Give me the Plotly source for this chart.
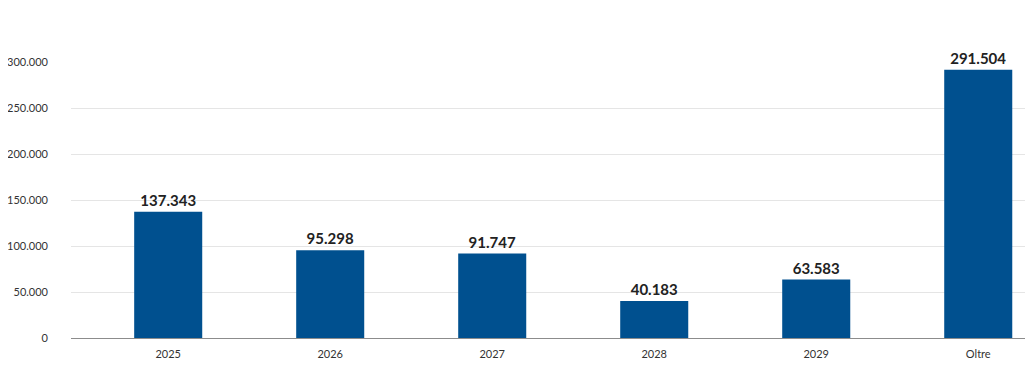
import plotly.graph_objects as go

categories = ["2025", "2026", "2027", "2028", "2029", "Oltre"]
values = [137343, 95298, 91747, 40183, 63583, 291504]
y_ticks = [0, 50000, 100000, 150000, 200000, 250000, 300000]
y_tick_labels = ["0", "50.000", "100.000", "150.000", "200.000", "250.000", "300.000"]

fig = go.Figure(
    go.Bar(
        x=categories,
        y=values,
        width=0.42,
        marker=dict(color="#00508f", line=dict(width=0)),
        texttemplate="%{y:,.0f}",
        textposition="outside",
        textfont=dict(family="Lato", size=15, color="#222222", weight="bold"),
        cliponaxis=False,
        hoverinfo="skip",
    )
)

fig.update_layout(
    width=1025,
    height=357,
    margin=dict(l=63, r=0, t=54, b=27),
    paper_bgcolor="white",
    plot_bgcolor="white",
    separators=",.",
    showlegend=False,
    font=dict(family="Lato", size=11, color="#333333"),
    xaxis=dict(
        type="category",
        range=[-0.6, 5.338],
        showgrid=False,
        showline=True,
        linecolor="#8c8c8c",
        linewidth=1,
        ticks="",
        tickfont=dict(family="Lato", size=11, color="#333333"),
        ticklabelstandoff=6,
        fixedrange=True,
    ),
    yaxis=dict(
        range=[0, 300000],
        tickvals=y_ticks,
        ticktext=y_tick_labels,
        showgrid=True,
        gridcolor="#e5e5e5",
        gridwidth=1,
        zeroline=False,
        showline=False,
        ticks="",
        ticklabelstandoff=22,
        tickfont=dict(family="Lato", size=11, color="#333333"),
        fixedrange=True,
    ),
)

fig.write_html("out.html")
